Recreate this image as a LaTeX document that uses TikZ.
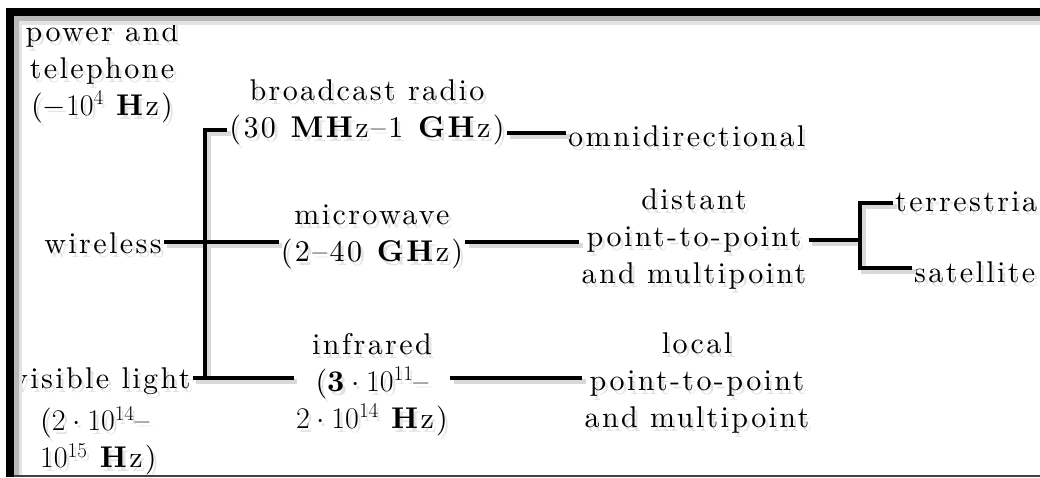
\documentclass[tikz,border=0pt]{standalone}
\usepackage{fix-cm}
\usepackage{fontspec}
\setmainfont{lmroman10-regular}[Extension=.otf, BoldFont=lmroman10-bold, LetterSpace=8]
\usetikzlibrary{calc}

\tikzset{
  lbl/.style={inner sep=2pt, align=center, font=\fontsize{30}{37}\selectfont},
  wire/.style={line width=3.5pt, line join=miter},
  wireshadow/.style={line width=5pt, draw=gray!30, transform canvas={shift={(3.5pt,-3.5pt)}}},
  textshadow/.style={text=gray!22},
}

% a label with a soft grey copy behind it
\newcommand\lab[4][]{%
  \node[lbl,#1,textshadow] (#2-sh) at ($(#3)+(3pt,-4pt)$) {#4};
  \node[lbl,#1] (#2) at (#3) {#4};
}
\newcommand\Hz{\textbf{H}z}

% all connectors, drawn once as shadow and once in black
\newcommand\wiring[1]{%
  \draw[#1] (ja -| br.west) -- (ja) -- (jb) -- (jb -| ir.west);
  \draw[#1] (wl.east |- jw) -- (jw -| mw.west);
  \draw[#1] (vl.east |- jb) -- (jb);
  \draw[#1] (br.east |- jo) -- (om.west |- jo);
  \draw[#1] (mw.east |- jw) -- (jw -| dp.west);
  \draw[#1] (dp.east |- jd) -- (jd);
  \draw[#1] (jt -| tr.west) -- (jt) -- (js) -- (js -| sa.west);
  \draw[#1] (ir.east |- jb) -- (jb -| lp.west);
}

\begin{document}
\begin{tikzpicture}[x=1pt, y=-1pt]
\useasboundingbox (0,0) rectangle (1040,477);
\fill[white] (0,0) rectangle (1040,477);

% branch points
\coordinate (ja) at (205,130);
\coordinate (jw) at (205,242);
\coordinate (jb) at (205,378);
\coordinate (jo) at (500,133);
\coordinate (jd) at (860,240);
\coordinate (jt) at (860,203);
\coordinate (js) at (860,268);

% label positions
\coordinate (p-pt) at (102,72);
\coordinate (p-wl) at (103,243);
\coordinate (p-vl) at (10,381);
\coordinate (p-vlf) at (38,441);
\coordinate (p-br) at (367,112);
\coordinate (p-mw) at (372,237);
\coordinate (p-ir) at (372,385);
\coordinate (p-om) at (566,136);
\coordinate (p-dp) at (694,239);
\coordinate (p-lp) at (697,383);
\coordinate (p-tr) at (893,201);
\coordinate (p-sa) at (912,272);

% labels
\lab{pt}{p-pt}{power and\\telephone\\($-10^{4}$ \Hz)}
\lab{wl}{p-wl}{wireless}
\lab[anchor=west]{vl}{p-vl}{visible light}
\lab[anchor=west, align=left]{vlf}{p-vlf}{($2\cdot10^{14}$–\\$10^{15}$ \Hz)}
\lab{br}{p-br}{broadcast radio\\(30 \textbf{MH}z–1 \textbf{GH}z)}
\lab{mw}{p-mw}{microwave\\(2–40 \textbf{GH}z)}
\lab{ir}{p-ir}{infrared\\($\mathbf{3}\cdot10^{11}$–\hspace*{1.2em}\\$2\cdot10^{14}$ \Hz)}
\lab[anchor=west]{om}{p-om}{omnidirectional}
\lab{dp}{p-dp}{distant\\point-to-point\\and multipoint}
\lab{lp}{p-lp}{local\\point-to-point\\and multipoint}
\lab[anchor=west]{tr}{p-tr}{terrestrial}
\lab[anchor=west]{sa}{p-sa}{satellite}

\wiring{wireshadow}
\wiring{wire}

% frame
\fill[gray!55] (14,16) rectangle (1040,21);
\fill[gray!22] (14,21) rectangle (1040,25);
\fill[gray!55] (14,16) rectangle (19,477);
\fill[gray!22] (19,21) rectangle (22,477);
\fill[black] (6,8) rectangle (1040,16);
\fill[black] (6,8) rectangle (14,477);
\fill[black!75] (14,475) rectangle (1040,477);
\end{tikzpicture}
\end{document}
